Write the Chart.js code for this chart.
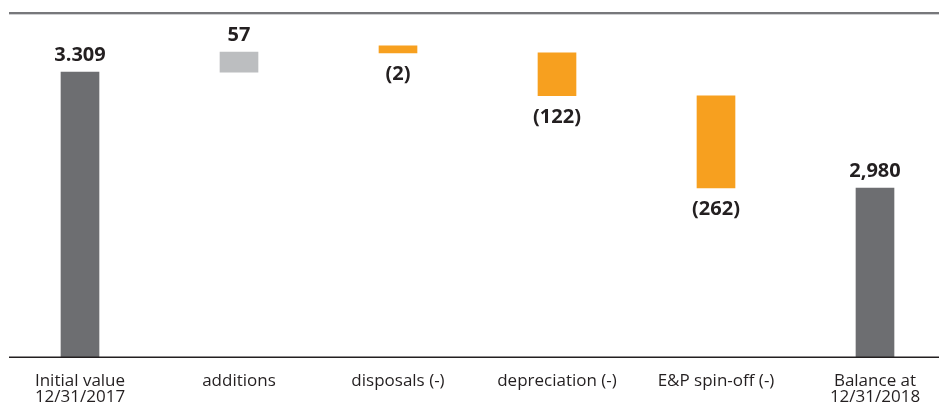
<!DOCTYPE html>
<html>
<head>
<meta charset="utf-8">
<script src="https://cdn.jsdelivr.net/npm/chart.js@4/dist/chart.umd.min.js"></script>
<style>
  html, body { margin: 0; padding: 0; background: #ffffff; }
  #wrap { width: 939px; height: 407px; position: relative; }
</style>
</head>
<body>
<div id="wrap"><canvas id="chart"></canvas></div>
<script>
// Categories along the bottom
const categories = [
  ['Initial value', '12/31/2017'],
  'additions',
  'disposals (-)',
  'depreciation (-)',
  'E&P spin-off (-)',
  ['Balance at', '12/31/2018']
];

// Opening balance, yearly movements and closing balance
const openingValue = 3309;
const movements = [57, -2, -122, -262];
const closingValue = 2980;

// Value labels printed next to each bar
const valueLabels = ['3.309', '57', '(2)', '(122)', '(262)', '2,980'];

// Visible value range of the vertical axis
const axisMin = 2500;
const axisMax = 3480;

// Bar colours: totals dark grey, increase light grey, decreases orange
const totalColor = '#6d6e71';
const increaseColor = '#bcbec0';
const decreaseColor = '#f7a01f';

// Build the floating bars of the waterfall from the movements
const barData = [[axisMin, openingValue]];
const barColors = [totalColor];
let running = openingValue;
movements.forEach(m => {
  const next = running + m;
  barData.push([running, next]);
  barColors.push(m >= 0 ? increaseColor : decreaseColor);
  running = next;
});
barData.push([axisMin, closingValue]);
barColors.push(totalColor);

const textColor = '#231f20';
const fontFamily = '"Open Sans", "Noto Sans", sans-serif';

// Horizontal rules above and below the plot, spanning the full width
const rulesPlugin = {
  id: 'rules',
  afterDatasetsDraw(chart) {
    const { ctx, chartArea } = chart;
    const x0 = 9, x1 = chart.width;
    ctx.save();
    // top rule
    ctx.fillStyle = '#77787b';
    ctx.fillRect(x0, chartArea.top, x1 - x0, 2);
    ctx.fillStyle = '#cfd0d2';
    ctx.fillRect(x0, chartArea.top + 2, x1 - x0, 1);
    // baseline
    ctx.fillStyle = textColor;
    ctx.fillRect(x0, chartArea.bottom - 0.5, x1 - x0, 1.5);
    ctx.restore();
  }
};

// Value labels: above bars that rise, below bars that fall
const valueLabelPlugin = {
  id: 'valueLabels',
  afterDatasetsDraw(chart) {
    const { ctx } = chart;
    const meta = chart.getDatasetMeta(0);
    ctx.save();
    ctx.font = 'bold 20px ' + fontFamily;
    ctx.fillStyle = textColor;
    ctx.textAlign = 'center';
    ctx.textBaseline = 'alphabetic';
    meta.data.forEach((bar, i) => {
      const top = Math.min(bar.y, bar.base);
      const bottom = Math.max(bar.y, bar.base);
      const isDecrease = i > 0 && i <= movements.length && movements[i - 1] < 0;
      if (isDecrease) {
        ctx.fillText(valueLabels[i], bar.x, bottom + 13 + 14);
      } else {
        ctx.fillText(valueLabels[i], bar.x, top - 11.5);
      }
    });
    ctx.restore();
  }
};

new Chart(document.getElementById('chart'), {
  type: 'bar',
  data: {
    labels: categories,
    datasets: [{
      data: barData,
      backgroundColor: barColors,
      borderWidth: 0,
      barThickness: 38,
      minBarLength: 7,
      clip: false
    }]
  },
  options: {
    responsive: true,
    maintainAspectRatio: false,
    animation: false,
    layout: { padding: { left: 80, right: 64, top: 12, bottom: 0 } },
    plugins: {
      legend: { display: false },
      tooltip: { enabled: false }
    },
    scales: {
      x: {
        offset: false,
        grid: { display: false, drawTicks: false },
        border: { display: false },
        ticks: {
          color: textColor,
          padding: 17,
          maxRotation: 0,
          autoSkip: false,
          font: { family: fontFamily, size: 17, lineHeight: 0.9 }
        },
        afterFit(scale) { scale.height = 50; }
      },
      y: {
        display: false,
        min: axisMin,
        max: axisMax
      }
    }
  },
  plugins: [rulesPlugin, valueLabelPlugin]
});
</script>
</body>
</html>
